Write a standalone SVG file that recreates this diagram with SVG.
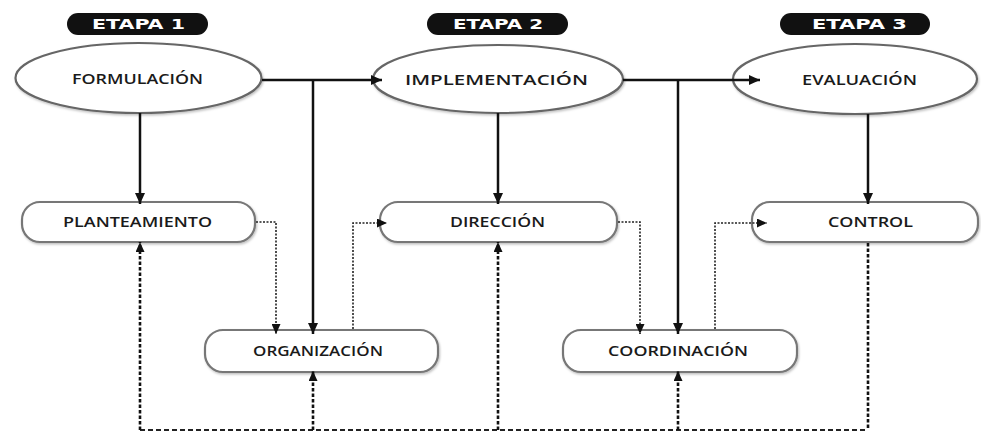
<svg xmlns="http://www.w3.org/2000/svg" width="981" height="436" viewBox="0 0 981 436">
<style>
.pill{fill:#111}
.ptxt{fill:#fff;font-family:"DejaVu Sans",sans-serif;font-weight:bold;font-size:14px}
.ell{fill:#fff;stroke:#666;stroke-width:2.2}
.box{fill:#fff;stroke:#777;stroke-width:2.2}
.lbl{fill:#1a1a1a;font-family:"Open Sans",sans-serif;font-weight:600;font-size:14px}
.solid{fill:none;stroke:#111;stroke-width:2.5}
.dot{fill:none;stroke:#222;stroke-width:1.6;stroke-dasharray:2 1.5}
.dashh{fill:none;stroke:#222;stroke-width:2;stroke-dasharray:5 3}
.dashv{fill:none;stroke:#111;stroke-width:2.6;stroke-dasharray:3.5 2}
</style>
<defs>
<marker id="ah" markerUnits="userSpaceOnUse" markerWidth="12" markerHeight="10" refX="11" refY="5" orient="auto"><path d="M0,0 L11,5 L0,10 z" fill="#111"/></marker>
<marker id="ahs" markerUnits="userSpaceOnUse" markerWidth="11" markerHeight="9" refX="10" refY="4.5" orient="auto"><path d="M0,0 L10,4.5 L0,9 z" fill="#111"/></marker>
<filter id="sh" x="-10%" y="-20%" width="120%" height="150%"><feDropShadow dx="1" dy="1.5" stdDeviation="1.2" flood-color="#000" flood-opacity="0.25"/></filter>
</defs>

<g id="etapa1"><rect class="pill" x="67" y="13" width="141" height="22" rx="11"/><text class="ptxt" x="92" y="29" textLength="93" lengthAdjust="spacingAndGlyphs">ETAPA 1</text></g>
<g id="etapa2"><rect class="pill" x="427" y="13" width="141" height="22" rx="11"/><text class="ptxt" x="453" y="29" textLength="90" lengthAdjust="spacingAndGlyphs">ETAPA 2</text></g>
<g id="etapa3"><rect class="pill" x="780" y="13" width="150" height="22" rx="11"/><text class="ptxt" x="812" y="29" textLength="95" lengthAdjust="spacingAndGlyphs">ETAPA 3</text></g>

<g id="formulacion"><ellipse class="ell" filter="url(#sh)" cx="138.5" cy="78" rx="123" ry="35"/><text class="lbl" x="72" y="84" textLength="131" lengthAdjust="spacingAndGlyphs">FORMULACIÓN</text></g>
<g id="implementacion"><ellipse class="ell" filter="url(#sh)" cx="498" cy="79" rx="125" ry="34"/><text class="lbl" x="405" y="85" textLength="183" lengthAdjust="spacingAndGlyphs">IMPLEMENTACIÓN</text></g>
<g id="evaluacion"><ellipse class="ell" filter="url(#sh)" cx="855" cy="79" rx="122" ry="35"/><text class="lbl" x="802" y="85" textLength="115" lengthAdjust="spacingAndGlyphs">EVALUACIÓN</text></g>

<g id="planteamiento"><rect class="box" filter="url(#sh)" x="22" y="202" width="233" height="40" rx="18"/><text class="lbl" x="63" y="227" textLength="149" lengthAdjust="spacingAndGlyphs">PLANTEAMIENTO</text></g>
<g id="direccion"><rect class="box" filter="url(#sh)" x="380" y="202" width="237" height="40" rx="18"/><text class="lbl" x="450" y="227" textLength="95" lengthAdjust="spacingAndGlyphs">DIRECCIÓN</text></g>
<g id="control"><rect class="box" filter="url(#sh)" x="752" y="202" width="226" height="40" rx="18"/><text class="lbl" x="828" y="227" textLength="85" lengthAdjust="spacingAndGlyphs">CONTROL</text></g>
<g id="organizacion"><rect class="box" filter="url(#sh)" x="205" y="330" width="233" height="42" rx="18"/><text class="lbl" x="253" y="356" textLength="130" lengthAdjust="spacingAndGlyphs">ORGANIZACIÓN</text></g>
<g id="coordinacion"><rect class="box" filter="url(#sh)" x="563" y="330" width="234" height="42" rx="18"/><text class="lbl" x="608" y="356" textLength="140" lengthAdjust="spacingAndGlyphs">COORDINACIÓN</text></g>

<g id="connectors">
<path class="solid" d="M262,80 H382" marker-end="url(#ah)"/>
<path class="solid" d="M623,80 H760" marker-end="url(#ah)"/>
<path class="solid" d="M313,80 V334" marker-end="url(#ah)"/>
<path class="solid" d="M678,80 V334" marker-end="url(#ah)"/>
<path class="solid" d="M140,113 V204" marker-end="url(#ah)"/>
<path class="solid" d="M498,113 V204" marker-end="url(#ah)"/>
<path class="solid" d="M868,114 V204" marker-end="url(#ah)"/>
<path class="dot" d="M256,222 H276 V334" marker-end="url(#ahs)"/>
<path class="dot" d="M353,329 V223 H387" marker-end="url(#ahs)"/>
<path class="dot" d="M618,222 H640 V334" marker-end="url(#ahs)"/>
<path class="dot" d="M715,329 V223 H767" marker-end="url(#ahs)"/>
<path class="dashh" d="M140,430 H868"/>
<path class="dashv" d="M140,430 V242" marker-end="url(#ahs)"/>
<path class="dashv" d="M313,430 V371" marker-end="url(#ahs)"/>
<path class="dashv" d="M498,430 V242" marker-end="url(#ahs)"/>
<path class="dashv" d="M678,430 V371" marker-end="url(#ahs)"/>
<path class="dashv" d="M868,243 V430"/>
</g>
</svg>
